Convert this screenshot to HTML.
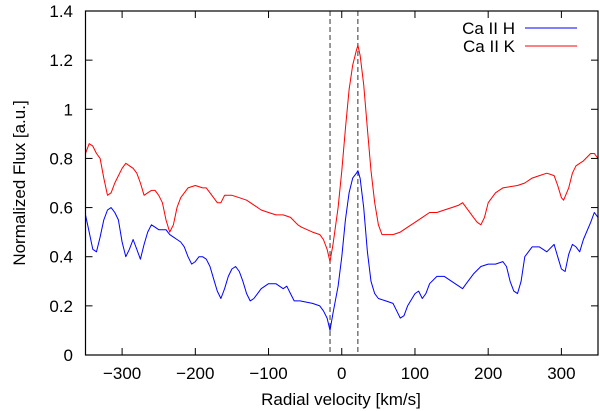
<!DOCTYPE html>
<html><head><meta charset="utf-8">
<style>
html,body{margin:0;padding:0;background:#fff;}
svg{display:block;font-family:"Liberation Sans",sans-serif;}
</style></head>
<body>
<svg id="chart" width="600" height="411" viewBox="0 0 600 411" xmlns="http://www.w3.org/2000/svg">
<g id="grid"></g>
<g id="series"></g>
<rect x="85.5" y="11" width="512.5" height="344" fill="none" stroke="#000" stroke-width="1.2"/>
<g id="ticks"></g>
<text x="341" y="405" font-size="17" text-anchor="middle">Radial velocity [km/s]</text>
<text transform="translate(25,183) rotate(-90)" font-size="17" text-anchor="middle">Normalized Flux [a.u.]</text>
<g>
<text x="515" y="34" font-size="17" text-anchor="end">Ca II H</text>
<line x1="525" y1="28" x2="577" y2="28" stroke="#0000ff" stroke-width="1"/>
<text x="515" y="52" font-size="17" text-anchor="end">Ca II K</text>
<line x1="525" y1="46" x2="577" y2="46" stroke="#ff0000" stroke-width="1"/>
</g>
</svg>
<script>
const xTicks=[-300,-200,-100,0,100,200,300];
const yTicks=[0,0.2,0.4,0.6,0.8,1,1.2,1.4];
const yTickLabels=["0","0.2","0.4","0.6","0.8","1","1.2","1.4"];
const markerVelocities=[-16,22];
const kVel=[-350,-345,-340,-335,-330,-325,-320,-315,-310,-300,-295,-290,-285,-280,-275,-270,-265,-260,-255,-250,-245,-240,-235,-230,-225,-220,-210,-200,-190,-185,-180,-170,-165,-160,-150,-140,-130,-120,-110,-100,-90,-80,-70,-60,-55,-40,-30,-25,-20,-16,-12,-5,0,5,10,15,20,22,25,30,35,40,45,50,55,60,70,80,90,100,110,120,130,140,150,160,165,170,180,185,190,195,200,210,220,240,250,260,270,280,290,295,300,303,310,315,320,330,340,345,350];
const kFlux=[0.82,0.86,0.85,0.82,0.80,0.72,0.65,0.66,0.70,0.76,0.78,0.77,0.76,0.74,0.70,0.65,0.66,0.67,0.67,0.65,0.62,0.55,0.50,0.53,0.60,0.64,0.68,0.69,0.68,0.68,0.66,0.62,0.62,0.65,0.65,0.64,0.63,0.61,0.59,0.58,0.57,0.57,0.56,0.53,0.52,0.50,0.49,0.47,0.43,0.38,0.45,0.60,0.75,0.92,1.08,1.18,1.24,1.26,1.22,1.10,0.92,0.75,0.62,0.53,0.49,0.49,0.49,0.50,0.52,0.54,0.56,0.58,0.58,0.59,0.60,0.61,0.62,0.60,0.56,0.54,0.53,0.56,0.62,0.66,0.68,0.69,0.70,0.72,0.73,0.74,0.73,0.69,0.64,0.63,0.68,0.74,0.77,0.79,0.82,0.82,0.80];
const hVel=[-350,-345,-340,-335,-330,-325,-320,-315,-310,-305,-300,-295,-290,-285,-280,-275,-270,-265,-260,-255,-250,-240,-235,-230,-225,-220,-215,-210,-205,-200,-195,-190,-185,-180,-175,-170,-165,-160,-155,-150,-145,-140,-135,-130,-125,-120,-115,-110,-100,-90,-85,-80,-75,-70,-65,-57,-40,-30,-25,-20,-16,-12,-5,0,5,10,15,20,22,25,30,35,40,45,50,60,70,75,80,85,90,100,105,110,115,120,130,140,150,160,165,170,180,190,200,210,220,225,230,235,240,245,250,260,270,280,290,295,300,305,310,315,320,325,330,340,345,350];
const hFlux=[0.57,0.50,0.43,0.42,0.48,0.55,0.59,0.60,0.58,0.55,0.46,0.40,0.43,0.47,0.43,0.39,0.45,0.50,0.53,0.52,0.51,0.51,0.49,0.48,0.47,0.46,0.44,0.40,0.37,0.38,0.40,0.40,0.39,0.36,0.31,0.26,0.23,0.27,0.32,0.35,0.36,0.34,0.30,0.25,0.22,0.23,0.25,0.27,0.29,0.29,0.28,0.27,0.28,0.25,0.22,0.22,0.21,0.20,0.18,0.15,0.10,0.17,0.28,0.40,0.55,0.66,0.72,0.74,0.75,0.72,0.60,0.42,0.30,0.25,0.23,0.22,0.21,0.18,0.15,0.16,0.20,0.25,0.26,0.23,0.25,0.29,0.32,0.32,0.30,0.28,0.27,0.29,0.33,0.36,0.37,0.37,0.38,0.36,0.30,0.26,0.25,0.30,0.40,0.44,0.44,0.42,0.45,0.40,0.35,0.34,0.41,0.45,0.44,0.42,0.47,0.54,0.58,0.56];

const X0=85.5,X1=598,Y0=355,Y1=11;
const xs=v=>X0+(v+350)/700*(X1-X0);
const ys=v=>Y0-v/1.4*(Y0-Y1);
const NS="http://www.w3.org/2000/svg";
function mk(tag,parent,attrs){const e=document.createElementNS(NS,tag);for(const k in attrs)e.setAttribute(k,attrs[k]);parent.appendChild(e);return e;}
const grid=document.getElementById('grid'),ser=document.getElementById('series'),tk=document.getElementById('ticks');
markerVelocities.forEach(v=>{
  const l=mk('line',grid,{x1:xs(v),x2:xs(v),y1:Y1,y2:Y0,stroke:'#555','stroke-width':1.2,'stroke-dasharray':'5,3'});
  
  
});
function path(vel,flux,color,name){
  const d=vel.map((v,i)=>(i?'L':'M')+xs(v).toFixed(1)+','+ys(flux[i]).toFixed(1)).join('');
  const p=mk('path',ser,{d:d,fill:'none',stroke:color,'stroke-width':1,'stroke-linejoin':'round'});
  
  
}
path(kVel,kFlux,'#ff0000','ca-ii-k-line');
path(hVel,hFlux,'#0000ff','ca-ii-h-line');
xTicks.forEach(v=>{
  const x=xs(v);
  mk('line',tk,{x1:x,x2:x,y1:Y0,y2:Y0-7,stroke:'#000'});
  mk('line',tk,{x1:x,x2:x,y1:Y1,y2:Y1+7,stroke:'#000'});
  const t=mk('text',tk,{x:x,y:379,'font-size':17,'text-anchor':'middle'});
  t.textContent=(v<0?'\u2212':'')+Math.abs(v);
  
  
});
yTicks.forEach((v,i)=>{
  const y=ys(v);
  mk('line',tk,{x1:X0,x2:X0+7,y1:y,y2:y,stroke:'#000'});
  mk('line',tk,{x1:X1,x2:X1-7,y1:y,y2:y,stroke:'#000'});
  const t=mk('text',tk,{x:73,y:y+6,'font-size':17,'text-anchor':'end'});
  t.textContent=yTickLabels[i];
  
  
});
</script>
</body></html>
